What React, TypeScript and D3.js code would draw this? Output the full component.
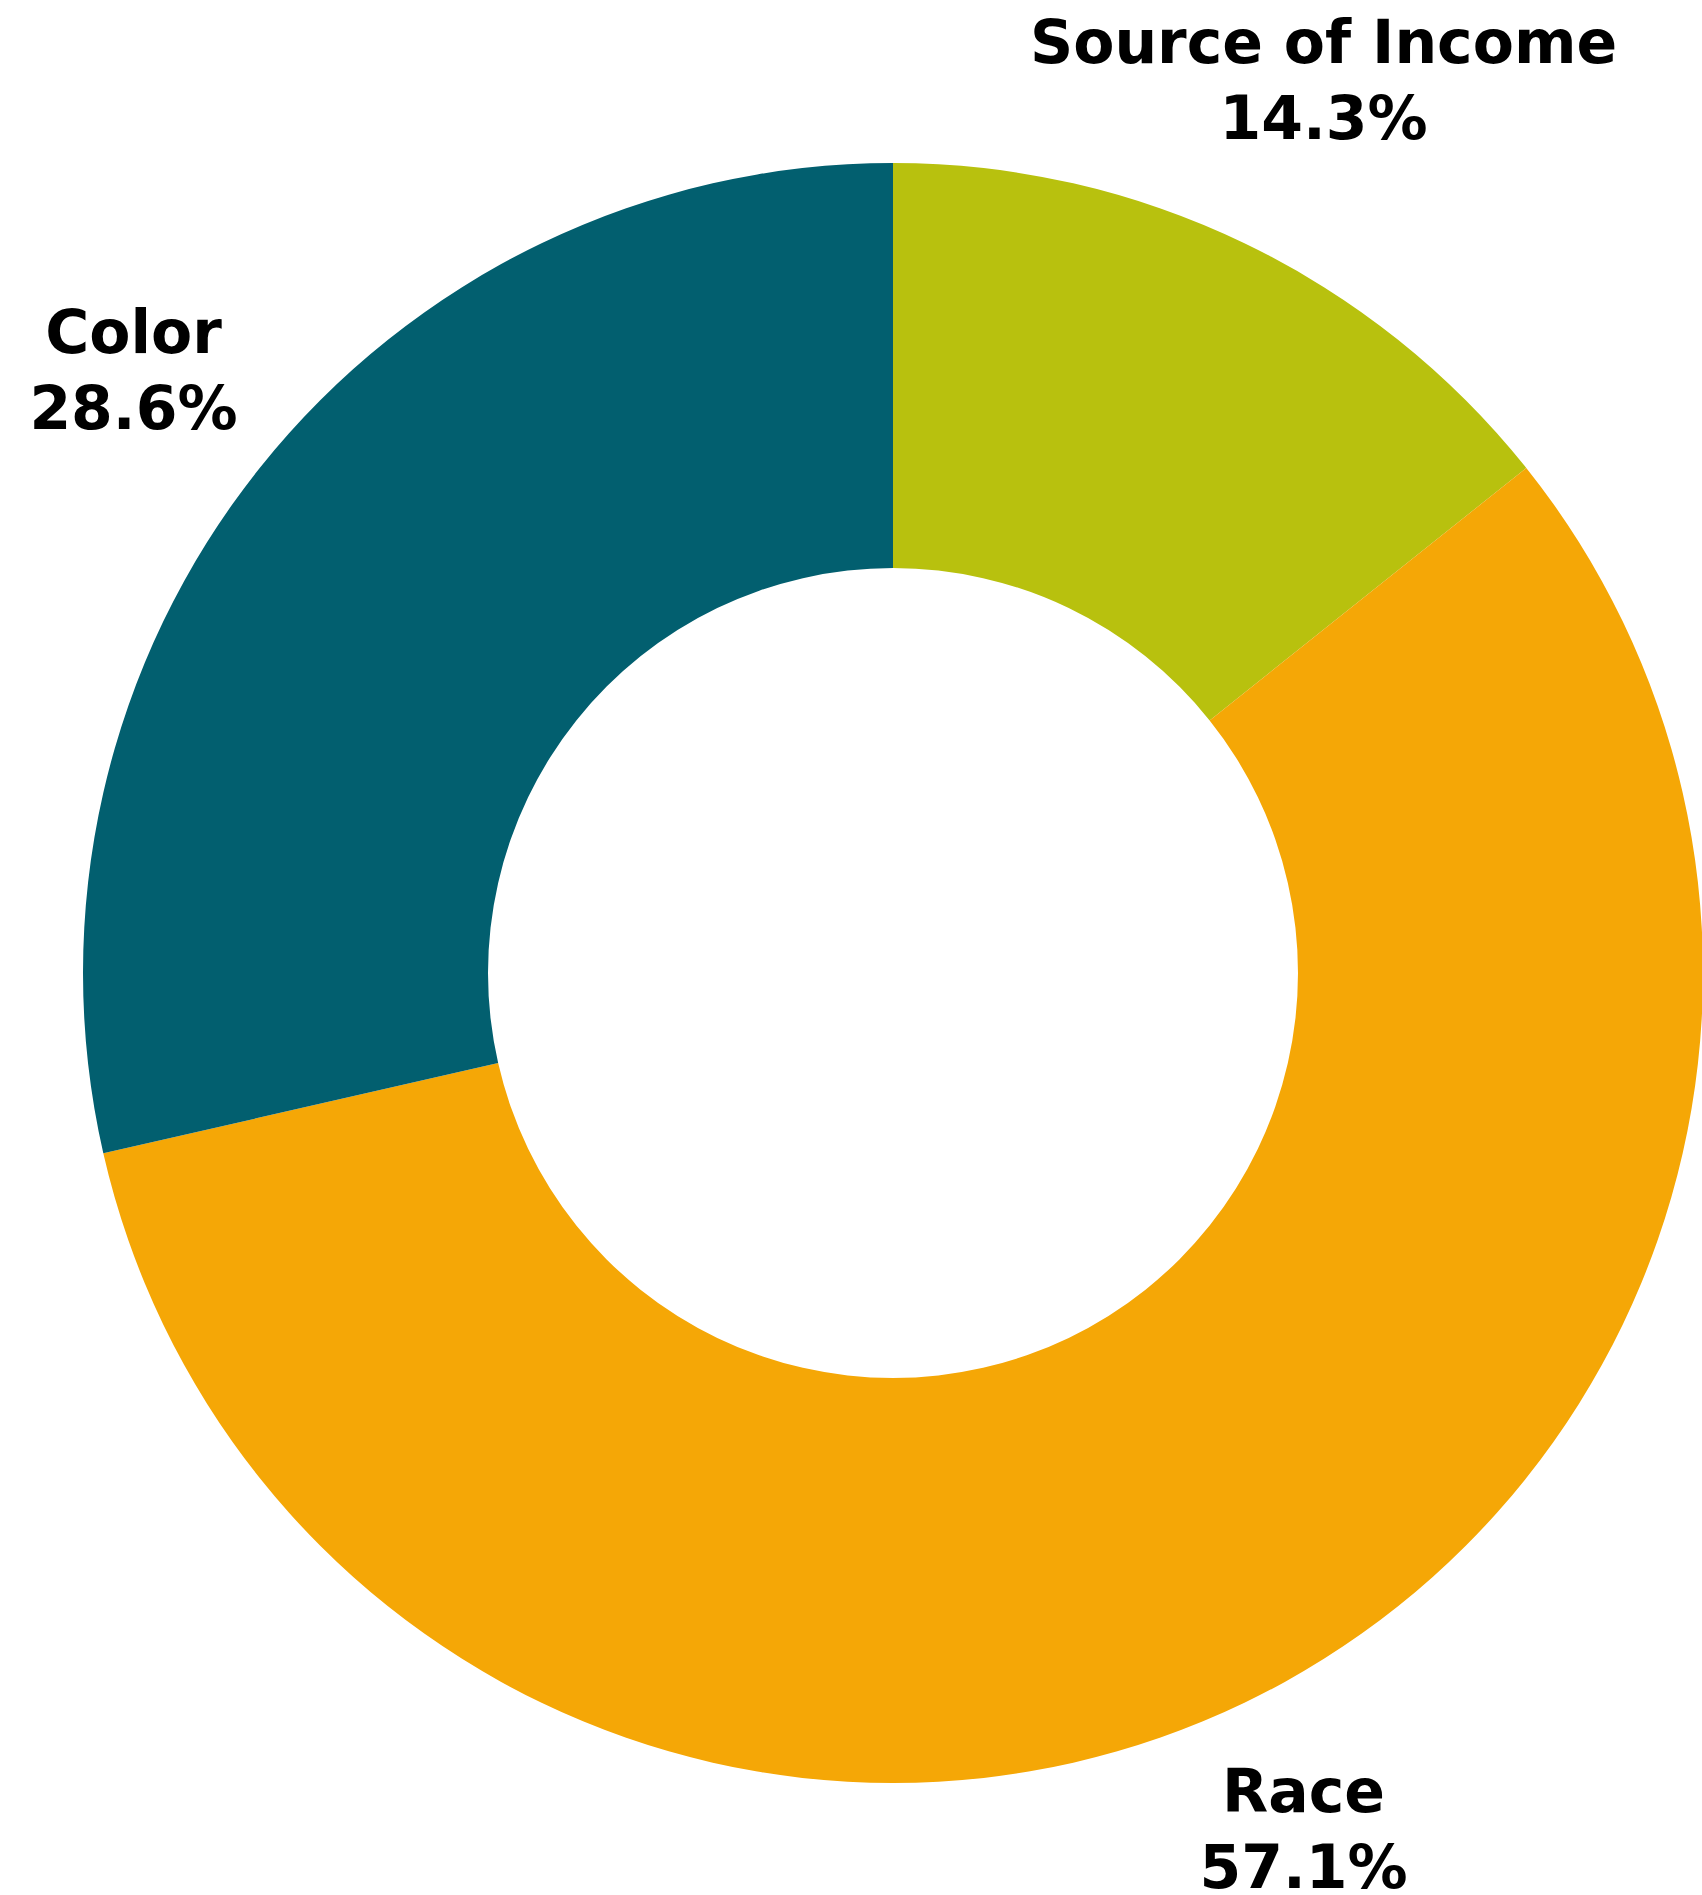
import React, { useEffect, useMemo } from 'react';
import * as d3 from 'd3';

const categories = ['Source of Income', 'Race', 'Color'];
const counts = [1, 4, 2];
const percentLabels = ['14.3%', '57.1%', '28.6%'];
const colors = ['#B8C10E', '#F5A706', '#025F6F'];

// small nudges so labels sit where the original placed them
const labelNudge: Record<string, [number, number]> = {
  'Source of Income': [14, -27],
  Race: [-6, -8],
  Color: [-9, -3],
};

const W = 1702;
const H = 1895;
const cx = 893;
const cy = 973;
const outerR = 810;
const innerR = 405;
const labelR = 960;

export default function App() {
  useEffect(() => {
    document.body.style.margin = '0';
  }, []);

  const arcs = useMemo(() => {
    const pie = d3.pie<number>().sort(null).value(d => d);
    return pie(counts);
  }, []);

  const arcGen = d3.arc<d3.PieArcDatum<number>>()
    .innerRadius(innerR)
    .outerRadius(outerR);

  return (
    <svg width={W} height={H} style={{ display: 'block', background: '#fff' }}>
      <g transform={`translate(${cx},${cy})`}>
        {arcs.map((a, i) => (
          <path key={categories[i]} d={arcGen(a) || ''} fill={colors[i]} />
        ))}
        {arcs.map((a, i) => {
          const mid = (a.startAngle + a.endAngle) / 2;
          const [nx, ny] = labelNudge[categories[i]] || [0, 0];
          const x = Math.sin(mid) * labelR + nx;
          const y = -Math.cos(mid) * labelR + ny;
          return (
            <text
              key={'lbl' + i}
              x={x}
              textAnchor="middle"
              fontFamily='"DejaVu Sans", Verdana, sans-serif'
              fontWeight="bold"
              fontSize={60}
              fill="#000"
            >
              <tspan x={x} y={y - 18}>{categories[i]}</tspan>
              <tspan x={x} y={y + 58}>{percentLabels[i]}</tspan>
            </text>
          );
        })}
      </g>
    </svg>
  );
}
